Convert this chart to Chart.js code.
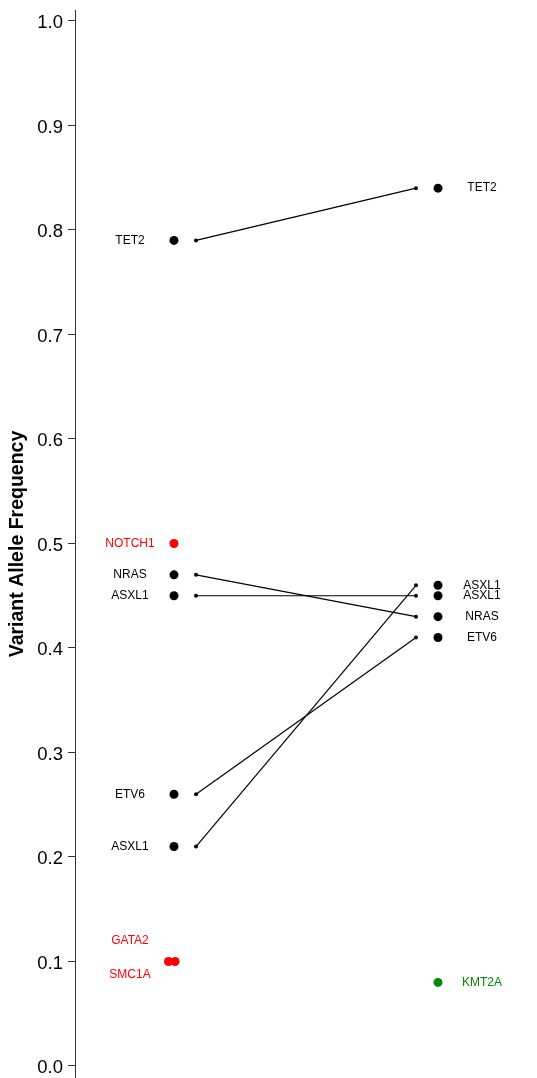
<!DOCTYPE html>
<html>
<head>
<meta charset="utf-8">
<script src="https://cdn.jsdelivr.net/npm/chart.js@4/dist/chart.umd.min.js"></script>
<style>
  html, body { margin: 0; padding: 0; background: #fff; }
  #wrap { width: 537px; height: 1078px; position: relative; }
</style>
</head>
<body>
<div id="wrap"><canvas id="vafChart"></canvas></div>
<script>
// timepoint 1 (left) and timepoint 2 (right) variants
const leftGenes  = ['TET2', 'NOTCH1', 'NRAS', 'ASXL1', 'ETV6', 'ASXL1', 'GATA2', 'SMC1A'];
const leftVaf    = [0.79, 0.50, 0.47, 0.45, 0.26, 0.21, 0.10, 0.10];
const leftStatus = ['kept', 'lost', 'kept', 'kept', 'kept', 'kept', 'lost', 'lost'];
// small dodge for overlapping dots, and label nudges (in VAF units)
const leftDodge  = [0, 0, 0, 0, 0, 0, -0.025, 0.005];
const leftNudge  = [0, 0, 0, 0, 0, 0, 0.02, -0.013];

const rightGenes  = ['TET2', 'ASXL1', 'ASXL1', 'NRAS', 'ETV6', 'KMT2A'];
const rightVaf    = [0.84, 0.46, 0.45, 0.43, 0.41, 0.08];
const rightStatus = ['kept', 'kept', 'kept', 'kept', 'kept', 'new'];

// [left index, right index]
const links = [[0, 0], [2, 3], [3, 2], [4, 4], [5, 1]];

const yTicks = [0.0, 0.1, 0.2, 0.3, 0.4, 0.5, 0.6, 0.7, 0.8, 0.9, 1.0];

const statusColor = { kept: '#000000', lost: '#ff0000', new: '#008b00' };
const X_LEFT = 0.9, X_LEFT_LINK = 1.0, X_RIGHT_LINK = 2.0, X_RIGHT = 2.1;
const X_LEFT_LABEL = 0.7, X_RIGHT_LABEL = 2.3;
const fontFamily = '"Liberation Sans", Arial, sans-serif';

const datasets = [];

links.forEach(([li, ri]) => {
    datasets.push({
        type: 'line',
        data: [{ x: X_LEFT_LINK, y: leftVaf[li] }, { x: X_RIGHT_LINK, y: rightVaf[ri] }],
        borderColor: '#000',
        borderWidth: 1.2,
        backgroundColor: '#000',
        pointRadius: 2,
        pointBorderWidth: 0,
        fill: false
    });
});

datasets.push({
    data: leftVaf.map((v, i) => ({ x: X_LEFT + leftDodge[i], y: v })),
    backgroundColor: leftStatus.map(s => statusColor[s]),
    pointRadius: 4.5,
    pointBorderWidth: 0
});
datasets.push({
    data: rightVaf.map(v => ({ x: X_RIGHT, y: v })),
    backgroundColor: rightStatus.map(s => statusColor[s]),
    pointRadius: 4.5,
    pointBorderWidth: 0
});

const geneLabels = {
    id: 'geneLabels',
    afterDatasetsDraw(chart) {
        const ctx = chart.ctx;
        const xs = chart.scales.x, ys = chart.scales.y;
        ctx.save();
        ctx.font = '12px ' + fontFamily;
        ctx.textAlign = 'center';
        ctx.textBaseline = 'middle';
        leftGenes.forEach((g, i) => {
            ctx.fillStyle = statusColor[leftStatus[i]];
            ctx.fillText(g, xs.getPixelForValue(X_LEFT_LABEL), ys.getPixelForValue(leftVaf[i] + leftNudge[i]));
        });
        rightGenes.forEach((g, i) => {
            ctx.fillStyle = statusColor[rightStatus[i]];
            ctx.fillText(g, xs.getPixelForValue(X_RIGHT_LABEL), ys.getPixelForValue(rightVaf[i]));
        });
        ctx.restore();
    }
};

new Chart(document.getElementById('vafChart'), {
    type: 'scatter',
    data: { datasets: datasets },
    options: {
        responsive: true,
        maintainAspectRatio: false,
        animation: false,
        clip: false,
        layout: { autoPadding: false, padding: { top: 10, left: 0, right: 0, bottom: 0 } },
        plugins: { legend: { display: false }, tooltip: { enabled: false } },
        scales: {
            x: { display: false, min: 0.45, max: 2.55 },
            y: {
                min: -0.0115,
                max: 1.0105,
                afterBuildTicks: scale => { scale.ticks = yTicks.map(v => ({ value: v })); },
                afterFit: scale => {
                    scale.width = 75;
                    // no extra room for overflowing tick labels
                    scale.paddingTop = 0;
                    scale.paddingBottom = 0;
                    scale.paddingLeft = 0;
                    scale.paddingRight = 0;
                },
                border: { display: true, color: '#333', width: 1 },
                grid: { drawOnChartArea: false, drawTicks: true, tickLength: 7, color: '#333' },
                ticks: {
                    padding: 5,
                    labelOffset: 2,
                    color: '#000',
                    font: { family: fontFamily, size: 18.5 },
                    callback: v => v.toFixed(1)
                },
                title: {
                    display: true,
                    text: 'Variant Allele Frequency',
                    color: '#000',
                    font: { family: fontFamily, size: 19.5, weight: 'bold' },
                    padding: { top: 6, bottom: 0 }
                }
            }
        }
    },
    plugins: [geneLabels]
});
</script>
</body>
</html>
